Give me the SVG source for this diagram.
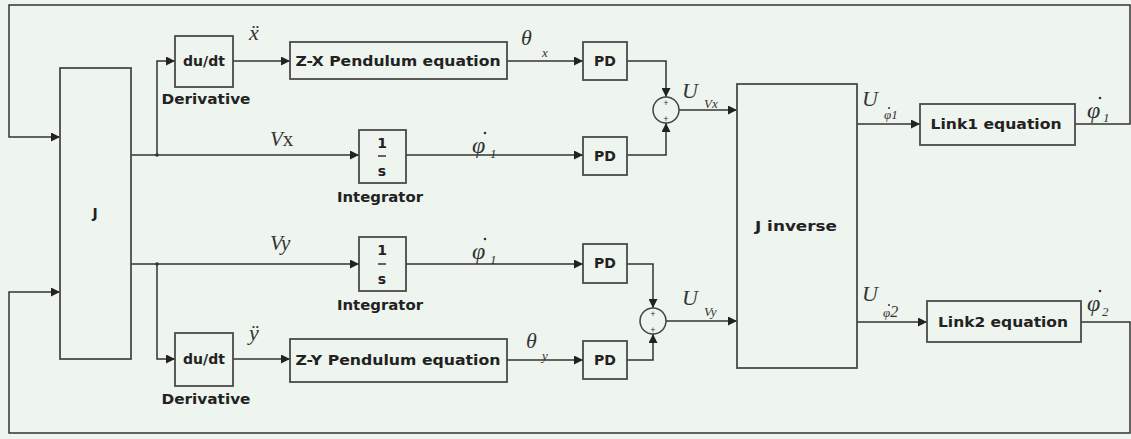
<svg xmlns="http://www.w3.org/2000/svg" width="1131" height="439" viewBox="0 0 1131 439">
<defs>
<marker id="arr" viewBox="0 0 10 10" refX="10" refY="5" markerWidth="10" markerHeight="9" markerUnits="userSpaceOnUse" orient="auto">
<path d="M0,0 L10,5 L0,10 Z" fill="#222"/>
</marker>
</defs>
<style>
.blk{fill:none;stroke:#4a4a4a;stroke-width:1.8}
.ln{fill:none;stroke:#333;stroke-width:1.5}
.ar{marker-end:url(#arr)}
.t{font-family:"DejaVu Sans","Liberation Sans",sans-serif;font-weight:bold;font-size:14px;fill:#222;text-anchor:middle}
.m{font-family:"Liberation Serif","DejaVu Serif",serif;font-style:italic;fill:#333}
.s{font-family:"Liberation Serif","DejaVu Serif",serif;font-style:italic;fill:#333;font-size:13px}
.dot{fill:#333}
.p{font-family:"Liberation Sans",sans-serif;font-size:9px;fill:#333;text-anchor:middle}
</style>
<rect x="0" y="0" width="1131" height="439" fill="#eef4ee"/>

<g id="connectors">
<polyline class="ln ar" points="1075,124 1130,124 1130,5 9,5 9,137 60,137"/>
<polyline class="ln ar" points="1081,322 1130,322 1130,433 9,433 9,292 60,292"/>
<polyline class="ln ar" points="131,155 359,155"/>
<polyline class="ln ar" points="157,155 157,61 175,61"/>
<polyline class="ln ar" points="233,61 290,61"/>
<polyline class="ln ar" points="507,61 583,61"/>
<polyline class="ln ar" points="406,155 583,155"/>
<polyline class="ln ar" points="627,61 666,61 666,97"/>
<polyline class="ln ar" points="627,155 666,155 666,123"/>
<polyline class="ln ar" points="679,110 737,110"/>
<polyline class="ln ar" points="131,264 359,264"/>
<polyline class="ln ar" points="157,264 157,359 175,359"/>
<polyline class="ln ar" points="233,359 290,359"/>
<polyline class="ln ar" points="507,360 583,360"/>
<polyline class="ln ar" points="406,264 583,264"/>
<polyline class="ln ar" points="627,264 653,264 653,308"/>
<polyline class="ln ar" points="627,360 653,360 653,334"/>
<polyline class="ln ar" points="666,321 737,321"/>
<polyline class="ln ar" points="857,124 920,124"/>
<polyline class="ln ar" points="857,322 927,322"/>
<circle cx="157" cy="155" r="1.8" fill="#333"/>
<circle cx="157" cy="264" r="1.8" fill="#333"/>
</g>

<g id="J">
<rect class="blk" x="60" y="68" width="71" height="291"/>
<text class="t" x="95" y="218">J</text>
</g>

<g id="deriv1">
<rect class="blk" x="175" y="36" width="58" height="51"/>
<text class="t" x="204" y="66" font-size="13">du/dt</text>
<text class="t" x="206" y="104" textLength="89" lengthAdjust="spacingAndGlyphs">Derivative</text>
</g>
<g id="deriv2">
<rect class="blk" x="175" y="333" width="58" height="53"/>
<text class="t" x="204" y="364" font-size="13">du/dt</text>
<text class="t" x="206" y="404" textLength="89" lengthAdjust="spacingAndGlyphs">Derivative</text>
</g>

<g id="zx">
<rect class="blk" x="290" y="42" width="217" height="37"/>
<text class="t" x="398" y="66" textLength="205" lengthAdjust="spacingAndGlyphs">Z-X Pendulum equation</text>
</g>
<g id="zy">
<rect class="blk" x="290" y="339" width="217" height="43"/>
<text class="t" x="398" y="365" textLength="205" lengthAdjust="spacingAndGlyphs">Z-Y Pendulum equation</text>
</g>

<g id="int1">
<rect class="blk" x="359" y="130" width="47" height="53"/>
<text class="t" x="382" y="148" font-size="13">1</text>
<line x1="378" y1="156" x2="386" y2="156" stroke="#333" stroke-width="1.5"/>
<text class="t" x="382" y="176" font-size="13">s</text>
<text class="t" x="380" y="202" textLength="86" lengthAdjust="spacingAndGlyphs">Integrator</text>
</g>
<g id="int2">
<rect class="blk" x="359" y="237" width="47" height="54"/>
<text class="t" x="382" y="255" font-size="13">1</text>
<line x1="378" y1="264" x2="386" y2="264" stroke="#333" stroke-width="1.5"/>
<text class="t" x="382" y="284" font-size="13">s</text>
<text class="t" x="380" y="310" textLength="86" lengthAdjust="spacingAndGlyphs">Integrator</text>
</g>

<g id="pd1"><rect class="blk" x="583" y="42" width="44" height="38"/><text class="t" x="605" y="66">PD</text></g>
<g id="pd2"><rect class="blk" x="583" y="137" width="44" height="38"/><text class="t" x="605" y="161">PD</text></g>
<g id="pd3"><rect class="blk" x="583" y="244" width="44" height="39"/><text class="t" x="605" y="268">PD</text></g>
<g id="pd4"><rect class="blk" x="583" y="341" width="44" height="38"/><text class="t" x="605" y="365">PD</text></g>

<g id="sum1">
<circle cx="666" cy="110" r="13" fill="none" stroke="#444" stroke-width="1.5"/>
<text class="p" x="666" y="106">+</text>
<text class="p" x="666" y="122">+</text>
</g>
<g id="sum2">
<circle cx="653" cy="321" r="13" fill="none" stroke="#444" stroke-width="1.5"/>
<text class="p" x="653" y="317">+</text>
<text class="p" x="653" y="333">+</text>
</g>

<g id="Jinv">
<rect class="blk" x="737" y="84" width="120" height="284"/>
<text class="t" x="796" y="231" textLength="82" lengthAdjust="spacingAndGlyphs">J inverse</text>
</g>

<g id="link1">
<rect class="blk" x="920" y="104" width="155" height="41"/>
<text class="t" x="996" y="129" textLength="131" lengthAdjust="spacingAndGlyphs">Link1 equation</text>
</g>
<g id="link2">
<rect class="blk" x="927" y="301" width="154" height="41"/>
<text class="t" x="1003" y="327" textLength="130" lengthAdjust="spacingAndGlyphs">Link2 equation</text>
</g>

<g id="labels">
<text class="m" x="249" y="40" font-size="22">ẍ</text>
<text class="m" x="249" y="340" font-size="22">ÿ</text>
<text class="m" x="521" y="45" font-size="22">θ</text><text class="s" x="542" y="57" font-size="11">x</text>
<text class="m" x="526" y="348" font-size="22">θ</text><text class="s" x="542" y="360" font-size="11">y</text>
<text class="m" x="270" y="146" font-size="21">V<tspan font-style="normal">x</tspan></text>
<text class="m" x="270" y="250" font-size="21">Vy</text>

<text class="m" x="472" y="153" font-size="24">φ</text><circle class="dot" cx="485" cy="133" r="1.3"/><text class="s" x="490" y="158">1</text>
<text class="m" x="472" y="259" font-size="24">φ</text><circle class="dot" cx="485" cy="239" r="1.3"/><text class="s" x="490" y="264">1</text>

<text class="m" x="682" y="98" font-size="22">U</text><text class="s" x="704" y="108">Vx</text>
<text class="m" x="682" y="305" font-size="22">U</text><text class="s" x="704" y="316">Vy</text>

<text class="m" x="862" y="106" font-size="22">U</text><text class="s" x="884" y="119">φ1</text><circle class="dot" cx="889" cy="108" r="1"/>
<text class="m" x="862" y="301" font-size="22">U</text><text class="s" x="883" y="317" font-size="15">φ<tspan font-size="16">2</tspan></text><circle class="dot" cx="889" cy="305" r="1"/>

<text class="m" x="1087" y="118" font-size="24">φ</text><circle class="dot" cx="1100" cy="98" r="1.3"/><text class="s" x="1103" y="122">1</text>
<text class="m" x="1087" y="311" font-size="24">φ</text><circle class="dot" cx="1100" cy="291" r="1.3"/><text class="s" x="1102" y="316" font-size="16">2</text>
</g>
</svg>
